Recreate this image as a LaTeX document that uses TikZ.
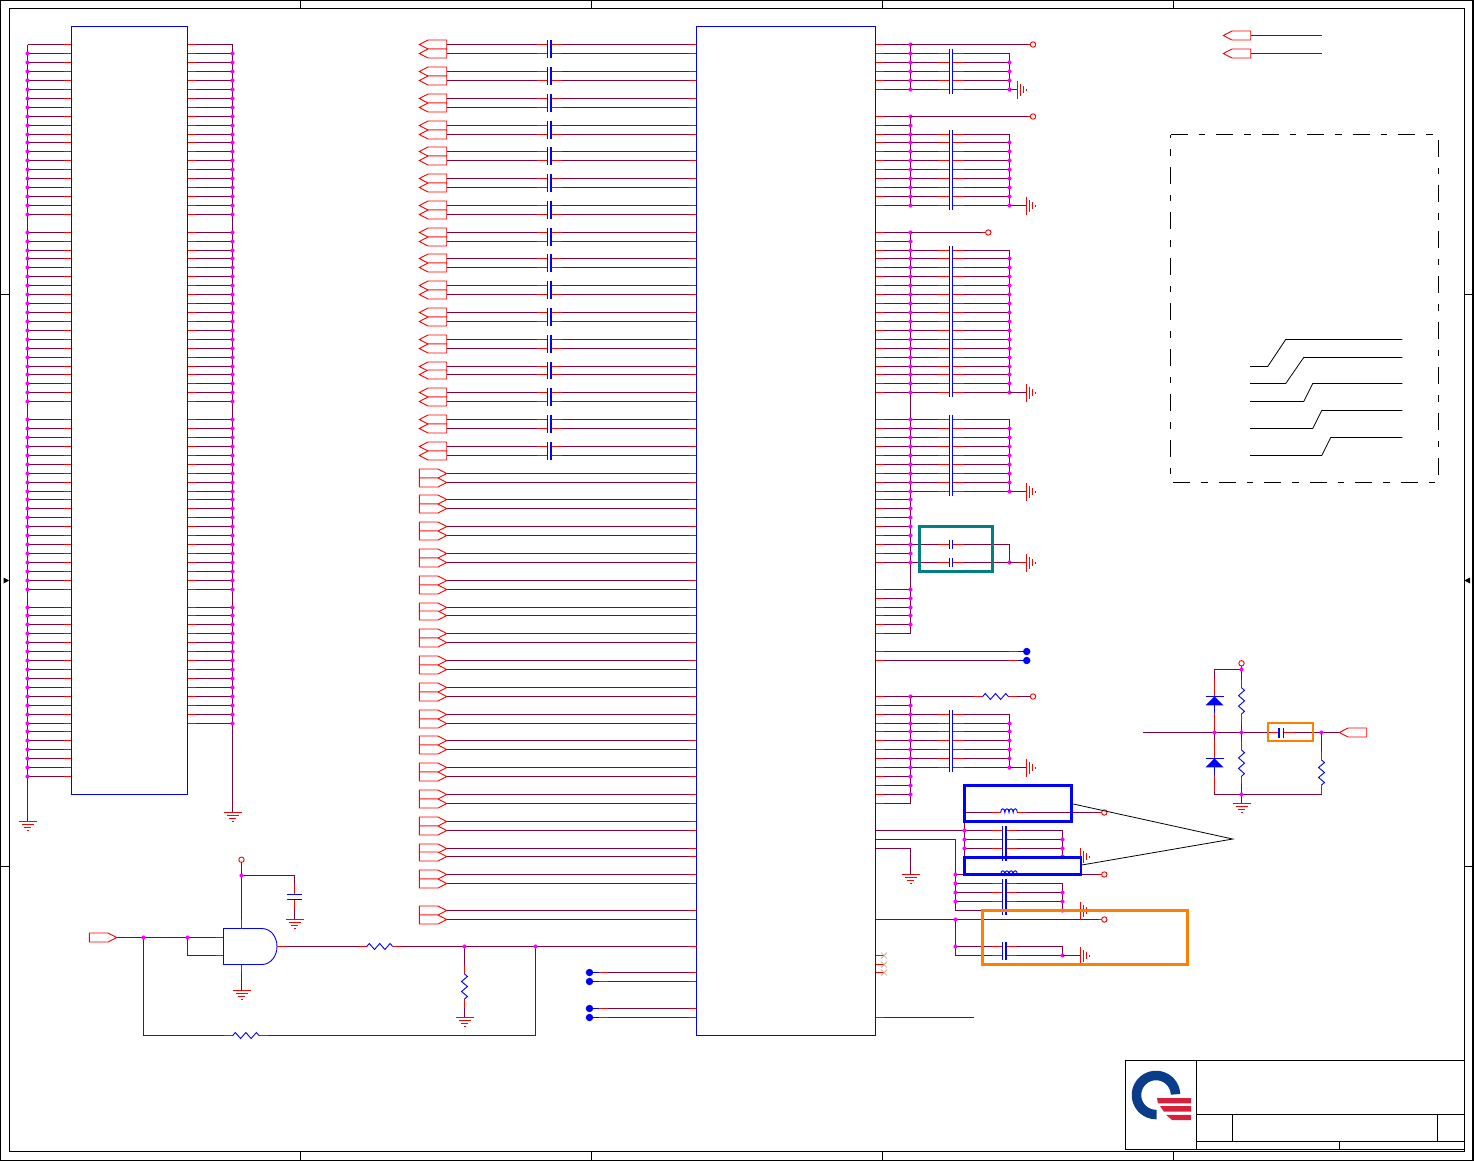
\documentclass[tikz,border=0pt]{standalone}
\usetikzlibrary{calc}
\definecolor{wirec}{HTML}{800040}
\definecolor{pinc}{HTML}{FF0000}
\definecolor{symc}{HTML}{0000FF}
\definecolor{dotc}{HTML}{FF00FF}
\definecolor{tealc}{HTML}{008080}
\definecolor{orangec}{HTML}{FF8000}
\definecolor{ncc}{HTML}{C8A080}
\definecolor{logob}{HTML}{0A3C8C}
\definecolor{logor}{HTML}{D8203C}
\tikzset{
  wire/.style={draw=wirec,line width=1pt},
  pin/.style={draw=pinc,line width=1pt},
  sym/.style={draw=symc,line width=0.9pt},
  plate/.style={draw=symc,line width=1.2pt},
  platethick/.style={draw=symc,line width=2pt},
  frame/.style={draw=black,line width=1pt},
  icbox/.style={draw=symc,line width=1pt,fill=none,rectangle,inner sep=0pt,outer sep=0pt},
  term/.style={circle,draw=pinc,fill=white,line width=0.9pt,inner sep=0pt,minimum size=5.4pt,outer sep=0pt},
  testpt/.style={circle,fill=symc,inner sep=0pt,minimum size=7.4pt,outer sep=0pt},
  gatetag/.style={draw=pinc,line width=0.9pt,fill=white}
}
% pixel-aligned row positions
\foreach \k in {0,...,109} {\pgfmathtruncatemacro{\vvv}{floor(44.75+8.925*\k)}\expandafter\xdef\csname ry\k\endcsname{\vvv.5}}
\newcommand{\Y}[1]{\csname ry#1\endcsname}
% loop over ranges a/b of rows: the body sees each row number as \k
\newcommand{\forRanges}[2]{\foreach \ra/\rb in {#1} {\foreach \k in {\ra,...,\rb} {#2}}}
\newcommand{\jdot}[2]{\fill[dotc] (#1,#2) circle (2.1pt);}
\newcommand{\tagL}[2]{\draw[gatetag] (#1,#2) -- ({#1+8.7},{#2-4.5}) -- ({#1+27.4},{#2-4.5}) -- ({#1+27.4},{#2+4.5}) -- ({#1+8.7},{#2+4.5}) -- cycle;}
\newcommand{\tagR}[2]{\draw[gatetag] (#1,{#2-4.5}) -- ({#1+18.7},{#2-4.5}) -- ({#1+27.4},#2) -- ({#1+18.7},{#2+4.5}) -- (#1,{#2+4.5}) -- cycle;}
% capacitor with a thin left and thick right plate
\newcommand{\hcap}[2]{%
  \fill[white] ({#1-2},{#2-1}) rectangle ({#1+2},{#2+1});
  \draw[pin] ({#1-12.6},#2) -- ({#1-2},#2) ({#1+2},#2) -- ({#1+12.6},#2);
  \draw[plate] ({#1-2},{#2-4.2}) -- ({#1-2},{#2+4.2});
  \draw[platethick] ({#1+1.8},{#2-4.2}) -- ({#1+1.8},{#2+4.2});}
% capacitor with two thin plates
\newcommand{\hcapthin}[2]{%
  \fill[white] ({#1-1.5},{#2-1}) rectangle ({#1+1.5},{#2+1});
  \draw[pin] ({#1-12.6},#2) -- ({#1-1.5},#2) ({#1+1.5},#2) -- ({#1+12.6},#2);
  \draw[plate] ({#1-1.5},{#2-4.2}) -- ({#1-1.5},{#2+4.2}) ({#1+1.5},{#2-4.2}) -- ({#1+1.5},{#2+4.2});}
\newcommand{\gndv}[2]{\draw[pin] ({#1-9},#2) -- ({#1+9},#2) ({#1-6},{#2+3}) -- ({#1+6},{#2+3}) ({#1-3.5},{#2+6}) -- ({#1+3.5},{#2+6}) ({#1-1},{#2+9}) -- ({#1+1},{#2+9});}
\newcommand{\gndh}[2]{\draw[pin] (#1,{#2-9}) -- (#1,{#2+9}) ({#1+2.8},{#2-6}) -- ({#1+2.8},{#2+6}) ({#1+5.6},{#2-3.5}) -- ({#1+5.6},{#2+3.5}) ({#1+8.4},{#2-1}) -- ({#1+8.4},{#2+1});}
\newcommand{\resH}[3]{%
  \draw[pin] ({#1-9},#3) -- (#1,#3) (#2,#3) -- ({#2+9},#3);
  \draw[sym] (#1,#3) -- ({#1+(#2-#1)*0.1},{#3-3}) -- ({#1+(#2-#1)*0.3},{#3+3}) -- ({#1+(#2-#1)*0.5},{#3-3}) -- ({#1+(#2-#1)*0.7},{#3+3}) -- ({#1+(#2-#1)*0.9},{#3-3}) -- (#2,#3);}
\newcommand{\resV}[3]{%
  \draw[pin] (#1,{#2-9}) -- (#1,#2) (#1,#3) -- (#1,{#3+9});
  \draw[sym] (#1,#2) -- ({#1+3},{#2+(#3-#2)*0.1}) -- ({#1-3},{#2+(#3-#2)*0.3}) -- ({#1+3},{#2+(#3-#2)*0.5}) -- ({#1-3},{#2+(#3-#2)*0.7}) -- ({#1+3},{#2+(#3-#2)*0.9}) -- (#1,#3);}
\newcommand{\indH}[2]{%
  \draw[pin] ({#1-9},#2) -- (#1,#2) ({#1+16.6},#2) -- ({#1+25.6},#2);
  \draw[white,line width=2pt] (#1,#2) -- ({#1+16.6},#2);
  \draw[sym] (#1,#2) .. controls (#1,{#2-5}) and ({#1+4.15},{#2-5}) .. ({#1+4.15},#2)
     .. controls ({#1+4.15},{#2-5}) and ({#1+8.3},{#2-5}) .. ({#1+8.3},#2)
     .. controls ({#1+8.3},{#2-5}) and ({#1+12.45},{#2-5}) .. ({#1+12.45},#2)
     .. controls ({#1+12.45},{#2-5}) and ({#1+16.6},{#2-5}) .. ({#1+16.6},#2);}
\newcommand{\diodeV}[2]{%
  \draw[pin] (#1,{#2-18}) -- (#1,#2) (#1,{#2+17}) -- (#1,{#2+34});
  \draw[sym] (#1,{#2+9}) -- (#1,{#2+17});
  \fill[symc] (#1,#2) -- ({#1+9},{#2+9}) -- ({#1-9},{#2+9}) -- cycle;
  \draw[plate] ({#1-9},#2) -- ({#1+9},#2);}
\begin{document}
\begin{tikzpicture}[x=1pt,y=-1pt]
\useasboundingbox (0,0) rectangle (1474,1162);
\fill[white] (0,0) rectangle (1474,1162);
% ---- sheet frame
\draw[frame,line width=1.3pt] (0.6,0.6) rectangle (1473,1160.5);
\draw[frame] (9.5,8.5) rectangle (1464.5,1151.5);
\foreach \x in {300.5,591.5,882.5,1173.5} {\draw[frame] (\x,0.6) -- (\x,8.5); \draw[frame] (\x,1151.5) -- (\x,1160.5);}
\foreach \y in {294.5,866.5} {\draw[frame] (0.6,\y) -- (9.5,\y); \draw[frame] (1464.5,\y) -- (1473,\y);}
\fill[black] (9.2,580.5) -- (3.5,577.5) -- (3.5,583.5) -- cycle;
\fill[black] (1464.3,580.5) -- (1470,577.5) -- (1470,583.5) -- cycle;
% ---- title block
\draw[frame] (1125.5,1060.5) rectangle (1464.5,1149.5);
\draw[frame] (1196.5,1060.5) -- (1196.5,1149.5);
\draw[frame] (1196.5,1114.5) -- (1464.5,1114.5);
\draw[frame] (1196.5,1141.5) -- (1464.5,1141.5);
\draw[frame] (1232.5,1114.5) -- (1232.5,1141.5);
\draw[frame] (1437.5,1114.5) -- (1437.5,1141.5);
\draw[frame] (1339.5,1141.5) -- (1339.5,1149.5);
% logo
\draw[logob,line width=9.5pt] plot[domain=2:272,samples=60] ({1156+19.5*cos(\x)},{1095-19.5*sin(\x)});
\fill[logor] (1157,1098) -- (1191,1098) -- (1191,1103.3) -- (1158,1103.3) -- cycle;
\fill[logor] (1160,1106) -- (1191,1106) -- (1191,1111.7) -- (1164,1111.7) -- cycle;
\fill[logor] (1166,1114.8) -- (1191,1114.8) -- (1191,1120) -- (1172,1120) -- cycle;
% ---- left connector
\forRanges{0/19,21/40,42/61,63/82}{
  \coordinate (LL\k) at (71.5,\Y{\k}); \coordinate (LB\k) at (27.5,\Y{\k});
  \draw[wire] (LB\k) -- (LL\k);
  \draw[pin] ($(LL\k)+(-8,0)$) -- (LL\k);
}
\forRanges{0/19,21/40,42/61,63/76}{
  \coordinate (LR\k) at (187.5,\Y{\k}); \coordinate (RB\k) at (232.5,\Y{\k});
  \draw[wire] (LR\k) -- (RB\k);
  \draw[pin] (LR\k) -- ++(8,0);
}
\coordinate (gl) at (27.5,821.5); \coordinate (gr) at (232.5,812.5);
\draw[wire] (LB0) -- (gl);
\draw[wire] (RB0) -- (gr);
\gndv{27.5}{821.5}
\gndv{232.5}{812.5}
\forRanges{1/19,21/40,42/61,63/82}{\jdot{27.5}{\Y{\k}}}
\forRanges{1/19,21/40,42/61,63/76}{\jdot{232.5}{\Y{\k}}}
\node[icbox,minimum width=116pt,minimum height=768pt] (J1) at (129.5,410.5) {};
% ---- main IC
\foreach \k in {0,...,109} {
  \coordinate (A\k) at (696.5,\Y{\k}); \coordinate (R\k) at (875.5,\Y{\k});
  \coordinate (B\k) at (910.5,\Y{\k}); \coordinate (C\k) at (1009.5,\Y{\k});
  \coordinate (G\k) at (964.5,\Y{\k}); \coordinate (H\k) at (955.5,\Y{\k});
  \coordinate (N\k) at (1062.5,\Y{\k});
}
% AC coupled left rows
\foreach \k in {0,3,...,45} {
  \foreach \d in {0,1} {
    \pgfmathtruncatemacro{\m}{\k+\d}
    \coordinate (T\m) at (446.7,\Y{\m});
    \draw[wire] (T\m) -- (A\m);
    \draw[pin] ($(A\m)+(-8,0)$) -- (A\m);
    \hcap{549.5}{\Y{\m}}
    \tagL{419.3}{\Y{\m}}
  }
}
% straight right-pointing pairs
\foreach \k in {48,51,...,93,97} {
  \foreach \d in {0,1} {
    \pgfmathtruncatemacro{\m}{\k+\d}
    \coordinate (T\m) at (446.7,\Y{\m});
    \draw[wire] (T\m) -- (A\m);
    \draw[pin] ($(A\m)+(-8,0)$) -- (A\m);
    \tagR{419.3}{\Y{\m}}
  }
}
% test points left of IC
\foreach \k in {104,105,108,109} {
  \node[testpt] (TP\k) at (589.5,\Y{\k}) {};
  \draw[wire] (TP\k) -- (A\k);
  \draw[sym] (TP\k) -- ++(9,0);
  \draw[pin] ($(TP\k)+(9,0)$) -- ++(9,0);
  \draw[pin] ($(A\k)+(-8,0)$) -- (A\k);
}
% ---- right side rows to power bus
\forRanges{0/5,8/18,21/39,42/58,61/66,73/85}{
  \draw[wire] (R\k) -- (B\k);
  \draw[pin] (R\k) -- ++(8.5,0);
}
\draw[wire] (B0) -- (B5);
\draw[wire] (B8) -- (B18);
\draw[wire] (B21) -- (B66);
\draw[wire] (B73) -- (B85);
% decoupling rows
\forRanges{1/5,10/18,23/39,42/50,56/56,58/58,75/81}{
  \draw[wire] (B\k) -- (C\k);
  \hcapthin{951}{\Y{\k}}
}
\draw[wire] (C1) -- (C5);
\draw[wire] (C10) -- (C18);
\draw[wire] (C23) -- (C39);
\draw[wire] (C42) -- (C50);
\draw[wire] (C56) -- (C58);
\draw[wire] (C75) -- (C81);
\forRanges{0/5,8/18,21/39,42/58,61/65,73/84}{\jdot{910.5}{\Y{\k}}}
\forRanges{2/5,11/18,24/39,43/50,58/58,76/81}{\jdot{1009.5}{\Y{\k}}}
% supply terminals
\node[term] (V1) at (1033,\Y{0}) {};  \draw[wire] (B0) -- (V1);
\node[term] (V2) at (1033,\Y{8}) {};  \draw[wire] (B8) -- (V2);
\node[term] (V3) at (988.3,\Y{21}) {}; \draw[wire] (B21) -- (V3);
\node[term] (V4) at (1033,\Y{73}) {}; \draw[wire] (B73) -- (V4);
\foreach \v in {V1,V2,V3} {\draw[pin] ($(\v)+(-6.3,0)$) -- (\v);}
\draw[white,line width=2pt] (982.7,\Y{73}) -- (1008.3,\Y{73});
\resH{982.7}{1008.3}{\Y{73}}
% grounds of decoupling groups
\coordinate (g1) at (1017.7,\Y{5});  \draw[wire] (C5) -- (g1);  \gndh{1017.7}{\Y{5}}
\foreach \k in {18,39,50,81} {
  \coordinate (gg\k) at (1026.7,\Y{\k});
  \draw[wire] (C\k) -- (gg\k);
  \gndh{1026.7}{\Y{\k}}
}
\coordinate (gg58) at (1026.7,\Y{58});
\draw[wire] (C58) -- (gg58);
\draw[pin] ($(gg58)+(-8,0)$) -- (gg58);
\gndh{1026.7}{\Y{58}}
\draw[tealc,line width=3pt] (919.5,526.7) rectangle (992,571.5);
% test points right
\foreach \k in {68,69} {
  \node[testpt] (TP\k) at (1026.7,\Y{\k}) {};
  \draw[wire] (R\k) -- (TP\k);
  \draw[pin] (R\k) -- ++(8.5,0);
  \draw[pin] ($(TP\k)+(-18,0)$) -- ++(9,0);
  \draw[sym] ($(TP\k)+(-9,0)$) -- (TP\k);
}
% ---- lower right filtered supplies
\foreach \k in {88,89,90,98,102,103,104,109} {\draw[pin] (R\k) -- ++(8.5,0);}
\draw[wire] (R88) -- (G88);
\draw[wire] (R89) -- (H89);
\draw[wire] (R90) -- (B90);
\coordinate (gs) at (910.5,874.5);
\draw[wire] (B90) -- (gs);
\gndv{910.5}{874.5}
\draw[wire] (G86) -- (G91);
\draw[wire] (H89) -- (H97);
\node[term] (V5) at (1104.3,\Y{86}) {}; \draw[wire] (G86) -- (V5);
\indH{1000.7}{\Y{86}}
\node[term] (V6) at (1104.3,\Y{93}) {}; \draw[wire] (H93) -- (V6);
\indH{1000.7}{\Y{93}}
\node[term] (V7) at (1104.3,\Y{98}) {}; \draw[wire] (R98) -- (V7);
\foreach \v in {V5,V6,V7} {\draw[pin] ($(\v)+(-6.3,0)$) -- (\v);}
\draw[wire] (H98) -- (H102);
\foreach \k in {88,89,90,91,94,95,96,97,101,102} {
  \ifnum\k<92
    \draw[wire] (G\k) -- (N\k);
  \else
    \draw[wire] (H\k) -- (N\k);
  \fi
  \hcap{1004.5}{\Y{\k}}
}
\draw[wire] (N88) -- (N91);
\draw[wire] (N94) -- (N97);
\draw[wire] (N101) -- (N102);
\foreach \k in {88,89,90} {\jdot{964.5}{\Y{\k}}}
\foreach \k in {93,94,95,96,98,101} {\jdot{955.5}{\Y{\k}}}
\foreach \k in {89,90,91,95,96,97,102} {\jdot{1062.5}{\Y{\k}}}
\foreach \k in {91,97,102} {
  \coordinate (gn\k) at (1080.7,\Y{\k});
  \draw[wire] (N\k) -- (gn\k);
  \gndh{1080.7}{\Y{\k}}
}
\draw[symc,line width=2.8pt] (964.5,785.5) rectangle (1071.7,821.5);
\draw[symc,line width=2.4pt] (964.5,857.5) rectangle (1080.7,874.5);
\draw[orangec,line width=2.6pt] (982.7,910.2) rectangle (1187.3,964.3);
\coordinate (ca) at (1073.3,804); \coordinate (cb) at (1232.7,839); \coordinate (cc) at (1081.7,865);
\draw[draw=black,line width=0.8pt] (ca) -- (cb) -- (cc);
% no-connect pins
\foreach \k in {102,103,104} {
  \draw[ncc,line width=0.7pt] (881,{\Y{\k}-3}) -- (887,{\Y{\k}+3}) (881,{\Y{\k}+3}) -- (887,{\Y{\k}-3});
}
\coordinate (stubend) at (973.7,\Y{109});
\draw[wire] (R109) -- (stubend);
\draw[pin] (R109) -- ++(8.5,0);
% ---- main IC box
\node[icbox,minimum width=179pt,minimum height=1009pt] (U1) at (786,531) {};
% ---- reset circuit
\coordinate (in1) at (223.5,937.5); \coordinate (in2) at (223.5,955.5);
\coordinate (out) at (277,946.5); \coordinate (vp) at (241.5,928.5); \coordinate (gp) at (241.5,964.5);
\coordinate (j1) at (143.5,937.5); \coordinate (j2) at (187.5,937.5); \coordinate (j3) at (187.5,955.5);
\coordinate (s1) at (116,937.5);
\draw[wire] (s1) -- (in1);
\draw[wire] (j2) -- (j3) -- (in2);
\draw[pin] ($(in1)+(-8,0)$) -- (in1);
\draw[pin] ($(in2)+(-8,0)$) -- (in2);
\tagR{89.3}{937.5}
\draw[sym,fill=white] (223.5,928.5) -- (261.7,928.5) .. controls (271,928.5) and (277,937) .. (277,946.5) .. controls (277,955.8) and (271,964.5) .. (261.7,964.5) -- (223.5,964.5) -- cycle;
\node[term] (V8) at (241.5,859.7) {};
\coordinate (j4) at (241.5,875.5); \coordinate (c1) at (294.5,875.5); \coordinate (c2) at (294.5,919.7);
\draw[wire] (V8) -- (vp);
\draw[pin] (241.5,919) -- (vp);
\draw[wire] (j4) -- (c1) -- (c2);
\draw[pin] (294.5,885) -- (294.5,910);
\draw[white,line width=3pt] (294.5,895) -- (294.5,899);
\draw[plate] (287,894.5) -- (302,894.5) (287,899.5) -- (302,899.5);
\gndv{294.5}{919.7}
\coordinate (g2) at (241.5,990.7);
\draw[wire] (gp) -- (g2); \draw[pin] (gp) -- (241.5,973);
\gndv{241.5}{990.7}
\coordinate (r1) at (464.5,946.5); \coordinate (r2) at (535.5,946.5);
\coordinate (r3) at (464.5,1017.5); \coordinate (r4) at (535.5,1035.5); \coordinate (r5) at (143.5,1035.5);
\draw[wire] (out) -- (A101);
\draw[pin] (out) -- ++(8.5,0);
\draw[pin] ($(A101)+(-8,0)$) -- (A101);
\draw[white,line width=2pt] (366.7,946.5) -- (392.7,946.5);
\resH{366.7}{392.7}{946.5}
\draw[wire] (r1) -- (r3);
\draw[white,line width=2pt] (464.5,974) -- (464.5,999);
\resV{464.5}{974}{999}
\gndv{464.5}{1017.5}
\draw[wire] (r2) -- (r4) -- (r5) -- (j1);
\draw[white,line width=2pt] (232.7,1035.5) -- (259,1035.5);
\resH{232.7}{259}{1035.5}
\jdot{143.5}{937.5}\jdot{187.5}{937.5}\jdot{241.5}{875.5}\jdot{464.5}{946.5}\jdot{535.5}{946.5}
% ---- top right tags
\foreach \n/\yy in {a/35.5,b/53.5} {
  \coordinate (ts\n) at (1250.7,\yy); \coordinate (te\n) at (1322,\yy);
  \draw[wire] (ts\n) -- (te\n);
  \tagL{1223.3}{\yy}
}
% ---- dash-dot box
\draw[black,line width=1pt,dash pattern=on 17pt off 11pt on 6.5pt off 11pt] (1170.5,134.5) -- (1438.5,134.5) -- (1438.5,482.5) -- (1170.5,482.5) -- cycle;
% ---- routing sketch
\draw[black,line width=0.8pt] (1250,366.5) -- (1267.7,366.5) -- (1285.7,339.5) -- (1402.3,339.5);
\draw[black,line width=0.8pt] (1250,383.5) -- (1285.7,383.5) -- (1303.7,357.5) -- (1402.3,357.5);
\draw[black,line width=0.8pt] (1250,401.5) -- (1303.7,401.5) -- (1312.7,383.5) -- (1402.3,383.5);
\draw[black,line width=0.8pt] (1250,428.5) -- (1312.7,428.5) -- (1321.7,410.5) -- (1402.3,410.5);
\draw[black,line width=0.8pt] (1250,455.5) -- (1321.7,455.5) -- (1330.7,437.5) -- (1402.3,437.5);
% ---- ESD / AC circuit
\node[term] (V9) at (1241.5,663.3) {};
\coordinate (e1) at (1241.5,669.5); \coordinate (e2) at (1214.5,669.5); \coordinate (e3) at (1214.5,794.5);
\coordinate (e4) at (1321.5,794.5); \coordinate (e5) at (1321.5,732.5); \coordinate (e6) at (1241.5,794.5);
\coordinate (e7) at (1142.7,732.5); \coordinate (e8) at (1339.3,732.5); \coordinate (e9) at (1241.5,803.5);
\draw[wire] (V9) -- (e9);
\draw[wire] (e1) -- (e2) -- (e3) -- (e4) -- (e5);
\draw[wire] (e7) -- (e8);
\diodeV{1214.5}{696.3}
\diodeV{1214.5}{758.3}
\draw[white,line width=2pt] (1241.5,687.7) -- (1241.5,714) (1241.5,750) -- (1241.5,776.3) (1321.5,760) -- (1321.5,785);
\resV{1241.5}{687.7}{714}
\resV{1241.5}{750}{776.3}
\resV{1321.5}{760}{785}
\fill[white] (1279,731) rectangle (1283.5,734);
\draw[pin] (1270,732.5) -- (1279,732.5) (1283.5,732.5) -- (1295,732.5);
\draw[plate] (1279,727.5) -- (1279,737.5);
\draw[symc,line width=1.5pt] (1283.5,727.5) -- (1283.5,737.5);
\draw[orangec,line width=2pt] (1267.7,722.7) rectangle (1313,740.7);
\tagL{1339.3}{732.5}
\gndv{1241.5}{803.5}
\jdot{1214.5}{732.5}\jdot{1241.5}{732.5}\jdot{1241.5}{669.5}\jdot{1241.5}{794.5}\jdot{1321.5}{732.5}
\end{tikzpicture}
\end{document}
